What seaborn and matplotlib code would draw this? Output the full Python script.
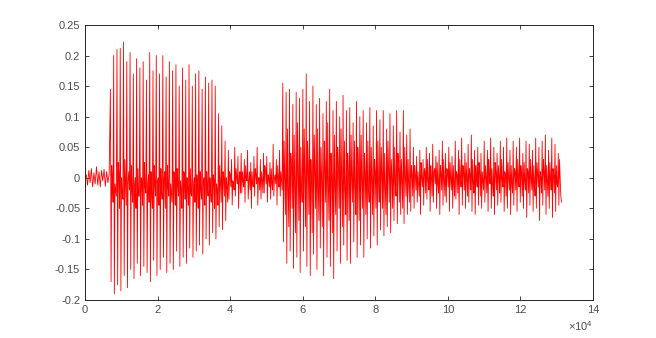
import numpy as np
import pandas as pd
import matplotlib
matplotlib.use("Agg")
import matplotlib.pyplot as plt
import seaborn as sns

# ---- data (audio waveform, amplitude vs sample index) ----
# segment boundaries (sample index)
seg_bounds = [0, 7000, 39500, 54500, 90500, 131300]

# segment 0: low-level noise before the onset
noise0 = [0.0, 0.005, -0.012, 0.012, -0.008, 0.015, -0.015, 0.008, -0.01, 0.018,
          -0.012, 0.01, -0.015, 0.012, -0.005, 0.014, -0.014, 0.01, -0.008, 0.006]

# segment 1: first voiced part (per pitch period: peak, trough, three inner values)
s1_top = [0.145, 0.20, 0.21, 0.212, 0.222, 0.19, 0.205, 0.17, 0.195, 0.18,
          0.19, 0.16, 0.205, 0.175, 0.2, 0.17, 0.2, 0.165, 0.19, 0.175,
          0.185, 0.15, 0.18, 0.16, 0.185, 0.15, 0.17, 0.175, 0.145, 0.165,
          0.155, 0.16, 0.15, 0.105, 0.085, 0.06]
s1_bot = [-0.17, -0.19, -0.175, -0.185, -0.16, -0.18, -0.15, -0.165, -0.14, -0.16,
          -0.145, -0.155, -0.17, -0.135, -0.16, -0.15, -0.13, -0.155, -0.14, -0.15,
          -0.12, -0.145, -0.13, -0.14, -0.115, -0.13, -0.12, -0.11, -0.125, -0.1,
          -0.11, -0.09, -0.1, -0.08, -0.085, -0.07]
s1_mid_a = [0.02, -0.01, 0.025, 0.0, 0.03, -0.005, 0.02, -0.01, 0.015, 0.0,
            0.025, -0.01, 0.01, 0.02, -0.005, 0.015, 0.0, 0.02, -0.01, 0.01,
            0.015, -0.005, 0.01, 0.0, 0.015, -0.01, 0.005, 0.01, -0.005, 0.01,
            0.0, 0.005, -0.01, 0.02, 0.01, 0.0]
s1_mid_c = [0.0, -0.02, 0.005, -0.025, -0.01, 0.01, -0.02, 0.0, -0.03, -0.005,
            -0.015, 0.005, -0.025, -0.01, 0.0, -0.02, 0.01, -0.015, -0.025, 0.0,
            -0.01, -0.02, 0.005, -0.015, -0.025, 0.0, -0.01, -0.02, 0.0, -0.015,
            -0.025, -0.005, -0.02, -0.01, 0.0, -0.015]
s1_mid_b = [-0.04, -0.03, -0.05, -0.035, -0.045, -0.02, -0.04, -0.05, -0.03, -0.045,
            -0.025, -0.04, -0.05, -0.03, -0.045, -0.035, -0.05, -0.03, -0.04, -0.045,
            -0.03, -0.05, -0.035, -0.045, -0.03, -0.04, -0.05, -0.035, -0.045, -0.03,
            -0.04, -0.05, -0.045, -0.04, -0.03, -0.04]

# segment 2: quiet part
s2_top = [0.045, 0.03, 0.05, 0.035, 0.04, 0.03, 0.045, 0.025, 0.035, 0.05,
          0.03, 0.04, 0.035, 0.025, 0.055, 0.03, 0.045]
s2_bot = [-0.035, -0.045, -0.03, -0.05, -0.025, -0.04, -0.035, -0.05, -0.03, -0.045,
          -0.035, -0.025, -0.04, -0.035, -0.03, -0.045, -0.03]
s2_mid_a = [0.01, -0.005, 0.015, 0.0, 0.01, 0.02, -0.005, 0.01, 0.015, 0.0,
            0.01, 0.02, 0.005, 0.015, 0.0, 0.02, 0.01]
s2_mid_c = [0.005, -0.01, 0.0, 0.01, -0.005, 0.0, 0.01, -0.01, 0.005, 0.0,
            -0.005, 0.01, 0.0, -0.01, 0.005, 0.0, -0.005]
s2_mid_b = [-0.015, -0.02, -0.01, -0.025, -0.015, -0.005, -0.02, -0.015, -0.01, -0.02,
            -0.025, -0.01, -0.015, -0.02, -0.01, -0.015, -0.02]

# segment 3: second voiced part
s3_top = [0.155, 0.14, 0.145, 0.12, 0.14, 0.13, 0.145, 0.17, 0.125, 0.15,
          0.12, 0.13, 0.105, 0.125, 0.145, 0.11, 0.125, 0.1, 0.135, 0.11,
          0.115, 0.09, 0.125, 0.1, 0.11, 0.09, 0.115, 0.085, 0.11, 0.095,
          0.11, 0.08, 0.105, 0.085, 0.11, 0.075, 0.11, 0.07, 0.08]
s3_bot = [-0.105, -0.14, -0.12, -0.148, -0.13, -0.155, -0.12, -0.145, -0.16, -0.125,
          -0.15, -0.115, -0.16, -0.13, -0.145, -0.165, -0.12, -0.14, -0.11, -0.135,
          -0.14, -0.105, -0.13, -0.11, -0.13, -0.1, -0.115, -0.095, -0.11, -0.085,
          -0.095, -0.08, -0.09, -0.07, -0.075, -0.06, -0.075, -0.06, -0.055]
s3_mid_a = [0.06, 0.08, 0.04, 0.07, 0.09, 0.05, 0.08, 0.06, 0.03, 0.07,
            0.08, 0.05, 0.06, 0.09, 0.04, 0.07, 0.05, 0.08, 0.06, 0.04,
            0.07, 0.06, 0.05, 0.07, 0.04, 0.06, 0.05, 0.03, 0.06, 0.05,
            0.04, 0.06, 0.03, 0.05, 0.04, 0.03, 0.05, 0.03, 0.02]
s3_mid_c = [0.0, -0.02, 0.02, -0.01, 0.01, -0.02, 0.0, 0.02, -0.01, 0.01,
            -0.02, 0.0, 0.015, -0.015, 0.005, -0.01, 0.02, 0.0, -0.02, 0.01,
            0.0, -0.015, 0.015, -0.005, 0.01, -0.02, 0.0, 0.01, -0.01, 0.005,
            -0.015, 0.01, 0.0, -0.01, 0.015, -0.005, 0.0, -0.01, 0.005]
s3_mid_b = [-0.06, -0.08, -0.05, -0.09, -0.07, -0.04, -0.08, -0.06, -0.09, -0.05,
            -0.07, -0.08, -0.04, -0.07, -0.09, -0.06, -0.05, -0.08, -0.06, -0.07,
            -0.04, -0.06, -0.07, -0.05, -0.06, -0.04, -0.06, -0.05, -0.04, -0.05,
            -0.06, -0.04, -0.05, -0.03, -0.04, -0.05, -0.03, -0.04, -0.03]

# segment 4: noisy tail
s4_top = [0.05, 0.035, 0.045, 0.03, 0.05, 0.04, 0.055, 0.035, 0.045, 0.06,
          0.04, 0.05, 0.035, 0.06, 0.045, 0.065, 0.04, 0.055, 0.07, 0.045,
          0.05, 0.04, 0.06, 0.045, 0.065, 0.05, 0.04, 0.06, 0.05, 0.065,
          0.045, 0.06, 0.05, 0.065, 0.04, 0.06, 0.055, 0.045, 0.065, 0.05,
          0.06, 0.07, 0.045, 0.065, 0.055, 0.04]
s4_bot = [-0.05, -0.04, -0.06, -0.045, -0.035, -0.055, -0.04, -0.05, -0.06, -0.045,
          -0.04, -0.055, -0.05, -0.035, -0.06, -0.045, -0.05, -0.04, -0.055, -0.06,
          -0.045, -0.05, -0.04, -0.055, -0.05, -0.06, -0.045, -0.04, -0.055, -0.05,
          -0.06, -0.045, -0.055, -0.04, -0.05, -0.065, -0.045, -0.055, -0.05, -0.07,
          -0.045, -0.06, -0.05, -0.065, -0.055, -0.045]
s4_mid_a = [0.02, 0.01, 0.025, 0.015, 0.03, 0.02, 0.01, 0.025, 0.02, 0.03,
            0.015, 0.025, 0.02, 0.01, 0.03, 0.02, 0.025, 0.015, 0.03, 0.02,
            0.025, 0.01, 0.02, 0.03, 0.015, 0.025, 0.02, 0.03, 0.01, 0.025,
            0.02, 0.015, 0.03, 0.02, 0.025, 0.015, 0.03, 0.02, 0.025, 0.01,
            0.03, 0.02, 0.025, 0.015, 0.02, 0.03]
s4_mid_c = [0.005, -0.01, 0.0, 0.01, -0.005, 0.0, 0.015, -0.01, 0.005, -0.005,
            0.01, 0.0, -0.01, 0.005, 0.0, 0.01, -0.005, 0.005, -0.01, 0.0,
            0.01, -0.005, 0.0, 0.005, -0.01, 0.01, 0.0, -0.005, 0.005, 0.0,
            -0.01, 0.01, 0.0, 0.005, -0.005, 0.01, 0.0, -0.01, 0.005, 0.0,
            0.01, -0.005, 0.0, 0.005, -0.01, 0.0]
s4_mid_b = [-0.02, -0.03, -0.015, -0.025, -0.02, -0.03, -0.01, -0.025, -0.02, -0.03,
            -0.015, -0.02, -0.03, -0.025, -0.015, -0.02, -0.03, -0.02, -0.025, -0.015,
            -0.03, -0.02, -0.025, -0.01, -0.03, -0.02, -0.025, -0.015, -0.03, -0.02,
            -0.025, -0.02, -0.015, -0.03, -0.02, -0.025, -0.02, -0.03, -0.015, -0.025,
            -0.02, -0.03, -0.02, -0.025, -0.015, -0.03]
end_value = -0.04

x_ticks = [0, 20000, 40000, 60000, 80000, 100000, 120000, 140000]
x_ticklabels = ["0", "2", "4", "6", "8", "10", "12", "14"]
y_ticks = [-0.2, -0.15, -0.1, -0.05, 0, 0.05, 0.1, 0.15, 0.2, 0.25]
y_ticklabels = ["-0.2", "-0.15", "-0.1", "-0.05", "0", "0.05", "0.1", "0.15", "0.2", "0.25"]

# ---- assemble the waveform vertices ----
xs, ys = [], []
xs.extend(np.linspace(seg_bounds[0], seg_bounds[1], len(noise0), endpoint=False))
ys.extend(noise0)
segments = [(s1_top, s1_bot, s1_mid_a, s1_mid_c, s1_mid_b),
            (s2_top, s2_bot, s2_mid_a, s2_mid_c, s2_mid_b),
            (s3_top, s3_bot, s3_mid_a, s3_mid_c, s3_mid_b),
            (s4_top, s4_bot, s4_mid_a, s4_mid_c, s4_mid_b)]
for k, cols in enumerate(segments):
    vals = np.column_stack(cols).ravel()
    xs.extend(np.linspace(seg_bounds[k + 1], seg_bounds[k + 2], len(vals), endpoint=False))
    ys.extend(vals)
xs.append(seg_bounds[-1])
ys.append(end_value)
df = pd.DataFrame({"sample": xs, "amp": ys})

# ---- plot ----
sns.set_style("white")
plt.rcParams["font.family"] = ["Liberation Sans", "DejaVu Sans"]
plt.rcParams["mathtext.fontset"] = "custom"
plt.rcParams["mathtext.rm"] = "Liberation Sans"
fig = plt.figure(figsize=(6.56, 3.38), dpi=100)
ax = fig.add_axes([0.1296, 0.1124, 0.7744, 0.8136])
sns.lineplot(data=df, x="sample", y="amp", sort=False, estimator=None,
             color=(1, 0, 0), linewidth=0.6, ax=ax)
ax.set_xlim(0, 140000)
ax.set_ylim(-0.2, 0.25)
ax.set_xticks(x_ticks)
ax.set_xticklabels(x_ticklabels)
ax.set_yticks(y_ticks)
ax.set_yticklabels(y_ticklabels)
ax.set_xlabel("")
ax.set_ylabel("")
ax.tick_params(direction="in", length=3, width=0.6, colors="#262626",
               labelcolor="#4d4d4d", labelsize=8, top=True, right=True,
               bottom=True, left=True)
for sp in ax.spines.values():
    sp.set_visible(True)
    sp.set_color("#262626")
    sp.set_linewidth(0.7)
ax.text(1.0, -0.095, r"$\times\mathregular{10^{4}}$", transform=ax.transAxes, ha="right",
        va="center", fontsize=8, color="#4d4d4d")
fig.savefig("out.png", dpi=100)
